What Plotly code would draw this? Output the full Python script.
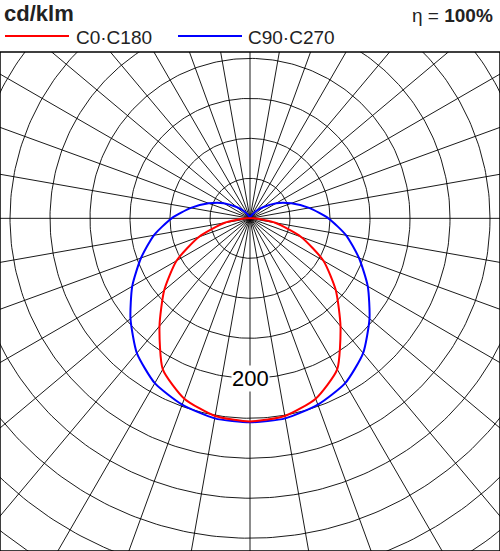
import numpy as np
import plotly.graph_objects as go

angles = [0, 10, 20, 30, 40, 50, 60, 70, 80, 90, 100, 110, 120, 130, 140, 150, 160, 170, 180]
c0_c180 = [254, 251, 240, 218, 176, 140, 106, 68, 32, 5, 0, 0, 0, 0, 0, 0, 0, 0, 0]
c90_c270 = [255, 254, 248, 238, 220, 195, 170, 145, 122, 98, 75, 55, 38, 22, 12, 5, 2, 0, 0]
ring_values = list(range(50, 601, 50))
spoke_angles = list(range(0, 360, 10))
label_value = 200

def to_xy(vals):
    a = np.array(angles, float)
    v = np.array(vals, float)
    full_a = np.concatenate([-a[::-1], a[1:]])
    full_v = np.concatenate([v[::-1], v[1:]])
    t = np.radians(full_a)
    return full_v * np.sin(t), -full_v * np.cos(t)

gx, gy = [], []
th = np.linspace(0, 2 * np.pi, 361)
for r in ring_values:
    gx += list(r * np.cos(th)) + [None]
    gy += list(r * np.sin(th)) + [None]
for a in spoke_angles:
    t = np.radians(a)
    gx += [0, 700 * np.cos(t), None]
    gy += [0, 700 * np.sin(t), None]

fig = go.Figure()
fig.add_trace(go.Scatter(x=gx, y=gy, mode="lines", line=dict(color="black", width=0.9), hoverinfo="skip"))
rx, ry = to_xy(c0_c180)
bx, by = to_xy(c90_c270)
fig.add_trace(go.Scatter(x=bx, y=by, mode="lines", line=dict(color="#0000ff", width=2, shape="spline", smoothing=0.6)))
fig.add_trace(go.Scatter(x=rx, y=ry, mode="lines", line=dict(color="#ff0000", width=2, shape="spline", smoothing=0.6)))

fig.add_annotation(x=0, y=-label_value, text=str(label_value), showarrow=False,
                   font=dict(family="Liberation Sans, Arial", size=22, color="black"),
                   bgcolor="white", borderpad=0)

def py(ypx):
    return (551 - ypx) / 499

fig.add_annotation(xref="paper", yref="paper", x=0.004, y=py(14), text="<b>cd/klm</b>", showarrow=False,
                   xanchor="left", yanchor="middle", font=dict(family="Liberation Sans, Arial", size=22, color="#222"))
fig.add_annotation(xref="paper", yref="paper", x=0.99, y=py(15), text="η = <b>100%</b>", showarrow=False,
                   xanchor="right", yanchor="middle", font=dict(family="Liberation Sans, Arial", size=19, color="#222"))
fig.add_annotation(xref="paper", yref="paper", x=0.148, y=py(37), text="C0·C180", showarrow=False,
                   xanchor="left", yanchor="middle", font=dict(family="Liberation Sans, Arial", size=19, color="#222"))
fig.add_annotation(xref="paper", yref="paper", x=0.492, y=py(37), text="C90·C270", showarrow=False,
                   xanchor="left", yanchor="middle", font=dict(family="Liberation Sans, Arial", size=19, color="#222"))
fig.add_shape(type="line", xref="paper", yref="paper", x0=0.01, x1=0.138, y0=py(36), y1=py(36), line=dict(color="red", width=2))
fig.add_shape(type="line", xref="paper", yref="paper", x0=0.356, x1=0.484, y0=py(36), y1=py(36), line=dict(color="blue", width=2))
fig.add_shape(type="rect", xref="paper", yref="paper", x0=0, x1=1, y0=0, y1=1, line=dict(color="black", width=1.5))

fig.update_xaxes(range=[-312.5, 312.5], visible=False, fixedrange=True)
fig.update_yaxes(range=[-416, 208], visible=False, fixedrange=True)
fig.update_layout(width=500, height=551, margin=dict(l=0, r=0, t=52, b=0), showlegend=False,
                  plot_bgcolor="white", paper_bgcolor="white")
fig.write_html("out.html", config={"displayModeBar": False},
               post_script="document.body.style.margin='0';document.body.style.overflow='hidden';")
